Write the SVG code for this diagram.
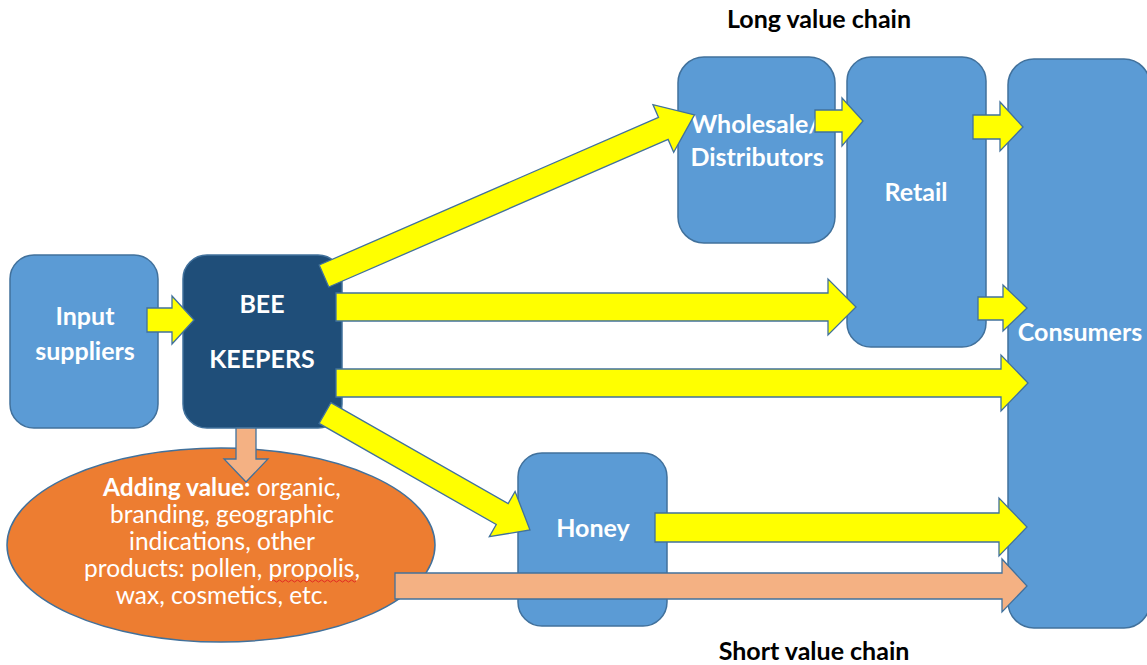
<svg xmlns="http://www.w3.org/2000/svg" width="1147" height="665" viewBox="0 0 1147 665">
<style>
.box{fill:#5B9BD5;stroke:#41719C;stroke-width:1.5}
.dark{fill:#1F4E79;stroke:#41719C;stroke-width:1.5}
.oval{fill:#ED7D31;stroke:#41719C;stroke-width:1.5}
.ya{fill:#FFFF00;stroke:#41719C;stroke-width:1.3;stroke-linejoin:miter}
.sa{fill:#F4B183;stroke:#41719C;stroke-width:1.3}
.t{font-family:Lato,"Open Sans","Liberation Sans",sans-serif;font-weight:bold;font-size:25px;fill:#FFFFFF;text-anchor:middle}
.e{font-family:Lato,"Open Sans","Liberation Sans",sans-serif;font-size:24.5px;fill:#FFFFFF;text-anchor:middle}
.h{font-family:Lato,"Open Sans","Liberation Sans",sans-serif;font-weight:bold;font-size:25px;fill:#000000;text-anchor:middle}
</style>
<rect width="1147" height="665" fill="#FFFFFF"/>
<g id="title-long"><text class="h" x="819" y="28">Long value chain</text></g>
<g id="title-short"><text class="h" x="814" y="660">Short value chain</text></g>
<g id="input-suppliers"><rect class="box" x="10" y="255" width="148" height="173" rx="24"/><text class="t" x="85" y="325">Input</text><text class="t" x="85" y="360">suppliers</text></g>
<g id="bee-keepers"><rect class="dark" x="183" y="255" width="159" height="173" rx="24"/><text class="t" x="262" y="313">BEE</text><text class="t" x="262" y="368">KEEPERS</text></g>
<g id="wholesale"><rect class="box" x="678" y="57" width="157" height="186" rx="26"/><text class="t" x="691" y="133" style="text-anchor:start">Wholesale/</text><text class="t" x="757" y="166">Distributors</text></g>
<g id="retail"><rect class="box" x="847" y="57" width="139" height="290" rx="24"/><text class="t" x="916" y="201">Retail</text></g>
<g id="consumers"><rect class="box" x="1008" y="59" width="142" height="569" rx="26"/><text class="t" x="1080" y="341">Consumers</text></g>
<g id="honey"><rect class="box" x="518" y="453" width="149" height="173" rx="24"/><text class="t" x="593" y="537">Honey</text></g>
<g id="adding-value"><ellipse class="oval" cx="221" cy="545" rx="214" ry="97"/>
<text class="e" x="222" y="496"><tspan font-weight="bold">Adding value:</tspan> organic,</text>
<text class="e" x="222" y="523">branding, geographic</text>
<text class="e" x="222" y="550">indications, other</text>
<text class="e" x="222" y="577">products: pollen, propolis,</text>
<text class="e" x="222" y="604">wax, cosmetics, etc.</text>
<path d="M272 581 q1.5 -2 3 0 t3 0 t3 0 t3 0 t3 0 t3 0 t3 0 t3 0 t3 0 t3 0 t3 0 t3 0 t3 0 t3 0 t3 0 t3 0 t3 0 t3 0 t3 0 t3 0 t3 0 t3 0 t3 0 t3 0 t3 0 t3 0 t3 0 t3 0" fill="none" stroke="#E02020" stroke-width="0.9"/>
</g>
<g id="connectors">
<polygon class="ya" points="147,308 172,308 172,296 194,320 172,344 172,332 147,332"/>
<polygon class="sa" points="236,428 256,428 256,459 268,459 246,482 224,459 236,459"/>
<polygon class="ya" transform="translate(324,276) rotate(-23.5)" points="0,-12 370,-12 370,-26 404,0 370,26 370,12 0,12"/>
<polygon class="ya" transform="translate(325,413) rotate(29.7)" points="0,-12 204,-12 204,-26 236,0 204,26 204,12 0,12"/>
<polygon class="ya" points="815,110 842,110 842,98 863,121 842,146 842,132 815,132"/>
<polygon class="ya" points="973,115 1000,115 1000,102 1023,127 1000,151 1000,139 973,139"/>
<polygon class="ya" points="978,297 1003,297 1003,285 1027,308 1003,331 1003,320 978,320"/>
<polygon class="ya" points="336,293 828,293 828,279 856,307 828,335 828,321 336,321"/>
<polygon class="ya" points="336,369 1001,369 1001,355 1028,383 1001,411 1001,397 336,397"/>
<polygon class="ya" points="655,513 999,513 999,498 1027,527 999,556 999,542 655,542"/>
<polygon class="sa" points="395,573 1002,573 1002,559 1027,586 1002,612 1002,599 395,599"/>
</g>
</svg>
